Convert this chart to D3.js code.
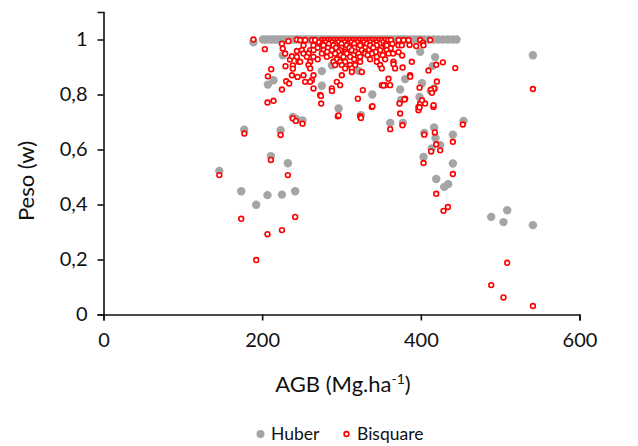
<!DOCTYPE html>
<html lang="pt">
<head>
  <meta charset="UTF-8">
  <title>Peso vs AGB</title>
  <script src="https://cdn.jsdelivr.net/npm/d3@7"></script>
  <style>
  body { margin: 0; background: #fff; }
  svg text { font-family: Lato, "Open Sans", sans-serif; fill: #111; }
  .axis path, .axis line { stroke: #111; stroke-width: 1.6px; }
  .axis text { font-size: 20px; }
  .title { font-size: 22px; }
  .legend text { font-size: 17.5px; }
  </style>
</head>
<body>
<svg id="chart" width="638" height="446"></svg>
<script>
// x ticks, y ticks
const xTicks = [0, 200, 400, 600];
const yTicks = [0, 0.2, 0.4, 0.6, 0.8, 1];

// Huber weights [AGB, w] - the band at w = 1 first
const huberBand = [189, 201, 204, 208, 212, 216, 219, 223, 227, 231, 235, 239, 243, 247,
  251, 255, 259, 263, 267, 271, 275, 279, 283, 287, 291, 295, 299, 303, 307, 311, 315,
  319, 323, 327, 331, 335, 339, 343, 347, 351, 355, 359, 363, 367, 371, 375, 379, 383,
  387, 391, 395, 399, 404, 410, 416, 422, 428, 434, 440, 445];
const huberOther = [
  [146, 0.522], [173.6, 0.448], [177.4, 0.672], [192.5, 0.399], [206.7, 0.434], [207.2, 0.836],
  [211, 0.576], [214.3, 0.852], [223.2, 0.670], [224.9, 0.436], [226, 0.943], [232.4, 0.55],
  [238.7, 0.718], [241.6, 0.448], [242.5, 0.712], [250.8, 0.706], [275.2, 0.885], [275.2, 0.832],
  [288, 0.906], [296.3, 0.749], [321.7, 0.886], [324.5, 0.725], [338.8, 0.8], [361.4, 0.697],
  [377.4, 0.697], [373.9, 0.818], [375, 0.78], [380.2, 0.856], [398.3, 0.791], [399.2, 0.955],
  [401.4, 0.841], [412.7, 0.813], [415, 0.904], [417, 0.822], [418, 0.936], [404.3, 0.66],
  [416.7, 0.68], [418.5, 0.642], [424.4, 0.616], [413.8, 0.604], [440.4, 0.654], [453.8, 0.704],
  [403.4, 0.573], [440.4, 0.549], [419.4, 0.493], [429.5, 0.464], [434.5, 0.474], [488.7, 0.355],
  [508.9, 0.379], [504.2, 0.336], [541.3, 0.325], [541.3, 0.943]
];

// Bisquare weights [AGB, w]
const bisquare = [
  [146, 0.507], [173.6, 0.348], [177.5, 0.658], [189, 1.0], [192.5, 0.198], [203.4, 0.965],
  [206.7, 0.292], [206.7, 0.771], [214.3, 0.777], [207.2, 0.866], [211, 0.562], [211.4, 0.892],
  [223.2, 0.653], [224.9, 0.307], [224.9, 0.818], [224.9, 0.985], [226, 0.967], [229, 0.949],
  [229.4, 0.903], [230.3, 0.848], [232.4, 0.507], [233, 0.994], [234, 0.84], [235, 0.927],
  [237.5, 0.939], [237.5, 0.870], [238.7, 0.906], [238.7, 0.894], [238.7, 0.713], [241.6, 0.355],
  [242.5, 0.704], [243.8, 1.0], [243.8, 0.958], [244.6, 0.864], [245.8, 0.919],
  // dense top band
  [247.9, 0.998], [254.2, 0.998], [262.6, 0.998], [266.8, 0.998], [275.2, 0.998], [279, 0.998],
  [283, 0.998], [287, 0.998], [291, 0.998], [295, 0.998], [299, 0.998], [303, 0.998],
  [307, 0.998], [311, 0.998], [315, 0.998], [319, 0.998], [323, 0.998], [327, 0.998],
  [331, 0.998], [335, 0.998], [339, 0.998], [343, 0.998], [347, 0.998], [351, 0.998],
  [355, 0.998], [359, 0.998], [362.3, 0.998], [371.9, 0.998], [378.2, 0.998], [384.4, 0.998],
  [399.2, 0.998], [411.8, 0.998],
  [272, 0.99], [280, 0.99], [288, 0.99], [296, 0.99], [304, 0.99], [312, 0.99], [320, 0.99],
  [328, 0.99], [336, 0.99], [344, 0.99], [352, 0.99], [402.6, 0.988],
  [276, 0.984], [284, 0.984], [292, 0.984], [300, 0.984], [308, 0.984], [316, 0.984],
  [324, 0.984], [332, 0.984], [340, 0.984], [348, 0.984], [356, 0.984], [364, 0.984],
  [252.1, 0.979], [264.7, 0.979], [277.3, 0.979], [289.9, 0.979], [306.7, 0.979], [323.5, 0.979],
  [336.1, 0.979], [344.5, 0.979], [357.1, 0.979], [371.8, 0.979], [376, 0.979], [385.8, 0.98],
  [394.2, 0.976], [403.3, 0.979],
  [270, 0.97], [283, 0.97], [293, 0.97], [300, 0.97], [310, 0.97], [316, 0.97], [330, 0.97],
  [340, 0.97], [350, 0.97], [362, 0.968],
  [250, 0.961], [260.5, 0.961], [264.7, 0.961], [277.3, 0.961], [287.8, 0.961], [298.3, 0.961],
  [313, 0.961], [325.6, 0.961], [334, 0.961], [348.7, 0.961], [357.1, 0.961], [371.9, 0.954],
  [376.5, 0.942],
  [282, 0.955], [296, 0.955], [305, 0.955], [318, 0.955], [330, 0.955], [343, 0.955],
  [252.1, 0.949], [258.4, 0.949], [275.2, 0.949], [292, 0.949], [306.7, 0.949], [321.4, 0.949],
  [329.8, 0.949], [338.2, 0.949], [359.2, 0.949], [365, 0.949],
  [286, 0.943], [299, 0.943], [315, 0.943], [333, 0.943], [352, 0.943],
  [243.7, 0.937], [256.3, 0.937], [264.7, 0.937], [281.5, 0.937], [302.5, 0.937], [310.9, 0.937],
  [323.5, 0.937], [344.5, 0.937],
  [270, 0.928], [294, 0.928], [316, 0.928], [336, 0.928], [355, 0.928],
  [247.9, 0.919], [260.5, 0.919], [289.9, 0.919], [298.3, 0.919], [304.6, 0.919], [323.5, 0.919],
  [344.5, 0.919], [365.5, 0.919], [388.6, 0.919],
  [258.4, 0.907], [292, 0.907], [300.4, 0.907], [310.9, 0.907], [317.2, 0.907], [348.7, 0.907],
  [365.6, 0.91], [377, 0.898],
  [260.5, 0.895], [304.6, 0.895], [313, 0.895], [350.8, 0.895], [367.6, 0.895], [409.6, 0.887],
  [419.4, 0.908], [427.8, 0.917], [443.4, 0.896],
  [313, 0.882], [325.6, 0.882],
  [252.1, 0.870], [264.7, 0.870], [300.4, 0.870], [386.5, 0.870],
  [262.6, 0.852], [359.2, 0.857],
  [254.2, 0.846], [260.5, 0.846], [294.1, 0.846], [420.2, 0.847],
  [298.3, 0.834], [350.8, 0.834], [355, 0.834], [361.3, 0.834],
  [398.4, 0.825], [264.7, 0.822], [287.8, 0.822], [416.7, 0.822], [326.9, 0.816], [412.7, 0.817],
  [273.1, 0.798], [320.6, 0.785], [380.2, 0.785],
  [274.4, 0.767], [373.1, 0.767], [399.1, 0.767], [405.4, 0.767],
  [338.2, 0.755], [397, 0.755], [415.9, 0.755], [397, 0.743], [373.9, 0.731],
  [295.4, 0.721], [323.5, 0.721],
  [250.8, 0.694], [361.4, 0.674], [376.8, 0.688], [452.9, 0.691],
  // lower right
  [404.3, 0.654], [417.7, 0.662], [419.4, 0.619], [424.4, 0.597], [413, 0.593], [440.4, 0.628],
  [403.4, 0.551], [440.4, 0.511], [419.4, 0.439], [428.6, 0.377], [434.1, 0.391],
  [488.7, 0.107], [508.9, 0.188], [504.2, 0.062], [541.3, 0.031], [324.5, 0.715], [339, 0.757],
  [541.3, 0.82],
  [274, 0.795], [288, 0.813], [296.3, 0.724], [379.4, 0.782], [401.4, 0.779], [398.4, 0.753],
  [414, 0.806], [416, 0.761], [353, 0.833], [386.6, 0.865]
];

const huber = huberBand.map(a => [a, a === 189 ? 0.99 : 1]).concat(huberOther);

const svg = d3.select('#chart');
const x = d3.scaleLinear().domain([0, 600]).range([103.5, 579.5]);
const y = d3.scaleLinear().domain([0, 1.1]).range([314.5, 12]);

const comma = d3.formatLocale({decimal: ',', thousands: '.', grouping: [3], currency: ['', '']}).format('~g');

svg.append('g')
  .attr('class', 'axis')
  .attr('transform', `translate(0,${y(0)})`)
  .call(d3.axisBottom(x).tickValues(xTicks).tickSizeOuter(0).tickSize(6).tickPadding(12));

svg.append('g')
  .attr('class', 'axis')
  .attr('transform', `translate(${x(0)},0)`)
  .call(d3.axisLeft(y).tickValues(yTicks).tickFormat(comma).tickSizeOuter(0).tickSize(6).tickPadding(10));

svg.selectAll('.axis text').attr('fill', '#111');

// gray Huber markers first, red Bisquare on top
svg.append('g').selectAll('circle')
  .data(huber)
  .join('circle')
    .attr('cx', d => x(d[0]))
    .attr('cy', d => y(d[1]))
    .attr('r', 4.2)
    .attr('fill', '#a5a5a5');

svg.append('g').selectAll('circle')
  .data(bisquare)
  .join('circle')
    .attr('cx', d => x(d[0]))
    .attr('cy', d => y(d[1]))
    .attr('r', 2.4)
    .attr('fill', '#fff')
    .attr('stroke', '#ff0000')
    .attr('stroke-width', 1.6);

// axis titles
svg.append('text')
  .attr('class', 'title')
  .attr('text-anchor', 'middle')
  .attr('transform', 'translate(34,181) rotate(-90)')
  .text('Peso (w)');

const xt = svg.append('text')
  .attr('class', 'title')
  .attr('text-anchor', 'middle')
  .attr('x', 343).attr('y', 392)
  .text('AGB (Mg.ha');
xt.append('tspan').attr('dy', -8).attr('font-size', 14).text('-1');
xt.append('tspan').attr('dy', 8).text(')');

// legend
const legend = svg.append('g').attr('class', 'legend');
legend.append('circle').attr('cx', 260.5).attr('cy', 434).attr('r', 4).attr('fill', '#a5a5a5');
legend.append('text').attr('x', 271).attr('y', 440).text('Huber');
legend.append('circle').attr('cx', 346.5).attr('cy', 434).attr('r', 2.4)
  .attr('fill', '#fff').attr('stroke', '#ff0000').attr('stroke-width', 1.6);
legend.append('text').attr('x', 357).attr('y', 440).text('Bisquare');
</script>
</body>
</html>
